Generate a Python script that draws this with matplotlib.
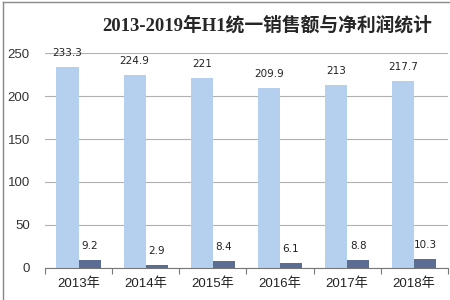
"""2013-2019 H1 sales and net profit bar chart"""

import numpy as np
import matplotlib
matplotlib.use('Agg')
import matplotlib.pyplot as plt
from matplotlib.lines import Line2D

plt.rcParams['font.family'] = ['DejaVu Sans', 'Noto Sans CJK SC']

years = ['2013年', '2014年', '2015年', '2016年', '2017年', '2018年']
sales = [233.3, 224.9, 221, 209.9, 213, 217.7]
profit = [9.2, 2.9, 8.4, 6.1, 8.8, 10.3]
yticks = [0, 50, 100, 150, 200, 250]

light = '#b5d0ef'
dark = '#5b6d92'
grid_c = '#b0b0b0'

fig = plt.figure(figsize=(4.5, 3), dpi=100)
ax = fig.add_axes([0.1, 0.107, 0.895, 0.716])

x = np.arange(len(years))
w = 0.33
ax.bar(x - w / 2, sales, width=w, color=light, zorder=2)
ax.bar(x + w / 2, profit, width=w, color=dark, zorder=2)

for xi, v in zip(x, sales):
    ax.annotate(f'{v:g}', (xi - w / 2, v), xytext=(0, 6.5), textcoords='offset points',
                ha='center', va='bottom', fontsize=7.5, color='#222222')
for xi, v in zip(x, profit):
    ax.annotate(f'{v:g}', (xi + w / 2, v), xytext=(0, 6.5), textcoords='offset points',
                ha='center', va='bottom', fontsize=7.5, color='#222222')

ax.set_xlim(-0.5, len(years) - 0.5)
ax.set_ylim(0, 250)
ax.set_yticks(yticks)
ax.set_yticklabels([str(t) for t in yticks], fontsize=9.5, color='#333333',
                   family='Liberation Sans')
ax.yaxis.grid(True, color=grid_c, linewidth=0.8, zorder=0)
ax.tick_params(axis='y', length=0, pad=11)

# category labels centred, tick marks between categories
ax.set_xticks(x)
ax.set_xticklabels(years, fontsize=9.5, color='#222222',
                   family=['Liberation Sans', 'Noto Sans CJK SC'])
ax.tick_params(axis='x', length=0, pad=7)
ax.set_xticks(np.arange(len(years) + 1) - 0.5, minor=True)
ax.tick_params(axis='x', which='minor', length=4, color='#777777', width=0.8)

for s in ['top', 'right', 'left']:
    ax.spines[s].set_visible(False)
ax.spines['bottom'].set_color('#777777')
ax.spines['bottom'].set_linewidth(0.8)

fig.text(0.593, 0.915, '2013-2019年H1统一销售额与净利润统计', ha='center', va='center',
         fontsize=13.5, fontweight='bold', color='#262626',
         family=['Liberation Serif', 'Noto Sans CJK SC'])

# outer frame, cropped on the right and bottom
fig.add_artist(Line2D([0.007, 0.007], [0, 0.993], color='#888888', linewidth=1))
fig.add_artist(Line2D([0.007, 1], [0.993, 0.993], color='#888888', linewidth=1))

fig.savefig('out.png', dpi=100)
